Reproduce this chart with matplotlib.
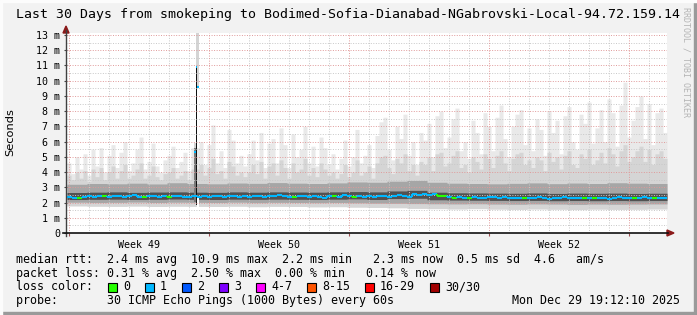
import numpy as np
import matplotlib
matplotlib.use("Agg")
import matplotlib.pyplot as plt
from matplotlib.patches import Rectangle, Polygon
from matplotlib.collections import LineCollection
from matplotlib.lines import Line2D

# ---------------- data ----------------
title = "Last 30 Days from smokeping to Bodimed-Sofia-Dianabad-NGabrovski-Local-94.72.159.14"
ytick_vals = list(range(0, 14))
ytick_labels = ["0"] + [f"{v} m" for v in range(1, 14)]
week_labels = ["Week 49", "Week 50", "Week 51", "Week 52"]
week_label_days = [3.6, 10.6, 17.6, 24.6]
week_grid_days = [0.1, 7.1, 14.1, 21.1, 28.1]
day_grid_days = [0.1 + k for k in range(30)]

# median rtt (ms), 120 bins of 6 h
median_ms = [
    2.36, 2.32, 2.30, 2.38, 2.41, 2.37, 2.43, 2.40, 2.35, 2.42,
    2.45, 2.38, 2.41, 2.47, 2.39, 2.36, 2.44, 2.40, 2.37, 2.43,
    2.34, 2.41, 2.46, 2.39, 2.36, 2.40, 2.35, 2.42, 2.38, 2.44,
    2.40, 2.37, 2.45, 2.41, 2.38, 2.43, 2.39, 2.46, 2.42, 2.37,
    2.44, 2.40, 2.48, 2.43, 2.38, 2.35, 2.41, 2.45, 2.39, 2.42,
    2.38, 2.33, 2.40, 2.44, 2.39, 2.47, 2.43, 2.36, 2.41, 2.38,
    2.42, 2.39, 2.45, 2.40, 2.37, 2.43, 2.48, 2.41, 2.38, 2.55,
    2.52, 2.58, 2.49, 2.56, 2.46, 2.40, 2.36, 2.33, 2.37, 2.31,
    2.30, 2.34, 2.29, 2.33, 2.38, 2.35, 2.31, 2.36, 2.32, 2.28,
    2.31, 2.27, 2.33, 2.30, 2.35, 2.29, 2.26, 2.32, 2.28, 2.34,
    2.30, 2.27, 2.31, 2.29, 2.33, 2.28, 2.32, 2.30, 2.26, 2.31,
    2.34, 2.29, 2.32, 2.27, 2.31, 2.35, 2.30, 2.28, 2.33, 2.30,
]
# lost pings per bin (0 -> green, 1 -> cyan)
loss_idx = [
    1, 1, 0, 1, 1, 1, 1, 0, 1, 1,
    1, 1, 1, 1, 1, 0, 1, 1, 1, 1,
    0, 1, 1, 1, 1, 1, 1, 1, 1, 1,
    1, 1, 1, 1, 1, 1, 1, 1, 1, 1,
    1, 1, 1, 1, 1, 0, 1, 1, 1, 1,
    1, 1, 1, 0, 1, 1, 1, 0, 1, 1,
    1, 1, 1, 1, 1, 1, 1, 1, 1, 1,
    1, 1, 1, 1, 0, 0, 1, 0, 1, 1,
    0, 1, 1, 1, 1, 1, 1, 1, 1, 1,
    1, 0, 1, 1, 1, 1, 1, 1, 1, 1,
    1, 1, 1, 0, 1, 0, 1, 1, 1, 1,
    1, 1, 1, 0, 1, 1, 1, 0, 1, 1,
]
# smoke: highest ping per 4.8 h bin (150 bins)
smoke_max = [
    4.6, 3.9, 5.0, 4.2, 5.2, 3.8, 5.5, 4.4, 5.6, 4.0, 5.1,
    5.8, 4.3, 5.3, 6.0, 4.1, 4.6, 5.5, 6.3, 4.2, 4.7,
    5.9, 4.4, 4.0, 4.8, 5.1, 5.7, 4.3, 4.7, 5.3, 4.1, 5.6,
    5.6,
    6.0, 4.5, 5.8, 7.1, 4.6, 5.4, 4.3, 6.8, 6.1, 4.6, 5.1, 4.4, 5.2, 6.1, 4.8, 6.6, 4.3, 5.9,
    6.2, 4.6, 6.9, 5.8, 4.3, 6.5, 5.0, 5.5, 7.0, 4.6, 5.7, 4.4, 6.3, 5.6, 4.5,
    5.2, 4.2, 4.9, 6.1, 4.4, 5.0, 6.8, 4.6, 5.1, 5.8, 4.3, 6.4, 7.3,
    7.6, 5.5, 4.8, 7.0, 6.2, 7.8, 5.1, 6.0, 4.5, 6.6, 6.1, 7.2, 5.0, 7.7, 8.0, 5.6, 6.3,
    7.5, 8.2, 5.4, 6.0, 4.9, 7.4, 6.6, 5.2, 7.9, 7.0, 5.4, 7.6, 8.4, 6.2, 5.0, 7.0, 7.8,
    8.1, 5.8, 6.9,
    5.4, 7.5, 6.8, 5.1, 8.0, 6.6, 7.4, 5.2, 7.7, 8.3, 6.0, 5.5, 7.8, 7.2, 8.6, 5.9, 6.9,
    8.1, 6.0, 8.8, 7.9, 5.7, 8.4, 9.9, 6.3, 7.4, 8.3, 9.0, 6.2, 8.5, 5.8, 7.9, 8.2, 6.6,
]
# smoke upper mid-gray level (150 bins)
smoke_p90 = [
    3.8, 3.5, 4.0, 3.6, 4.1, 3.4, 4.2, 3.7, 4.3, 3.5, 4.0,
    4.4, 3.6, 4.1, 4.5, 3.6, 3.8, 4.2, 4.6, 3.6, 3.8,
    4.4, 3.7, 3.5, 3.9, 4.0, 4.3, 3.6, 3.8, 4.1, 3.5, 4.2,
    4.2,
    4.5, 3.8, 4.3, 4.9, 3.9, 4.1, 3.6, 4.7, 4.4, 3.8, 4.0, 3.7, 4.0, 4.5, 3.9, 4.7, 3.6, 4.4,
    4.6, 3.8, 4.8, 4.3, 3.6, 4.6, 4.0, 4.2, 4.9, 3.8, 4.3, 3.7, 4.6, 4.2, 3.8,
    4.0, 3.6, 3.9, 4.5, 3.7, 4.0, 4.8, 3.8, 4.0, 4.4, 3.6, 4.6, 5.0,
    5.1, 4.3, 3.9, 4.9, 4.6, 5.2, 4.1, 4.5, 3.8, 4.7, 4.5, 5.0, 4.1, 5.2, 5.3, 4.4, 4.6,
    5.1, 5.4, 4.3, 4.5, 4.0, 5.0, 4.7, 4.2, 5.2, 4.9, 4.3, 5.1, 5.4, 4.6, 4.1, 4.9, 5.2,
    5.3, 4.5, 4.8,
    4.3, 5.0, 4.8, 4.1, 5.3, 4.7, 5.0, 4.2, 5.1, 5.4, 4.5, 4.3, 5.2, 4.9, 5.5, 4.5, 4.8,
    5.3, 4.6, 5.6, 5.2, 4.4, 5.4, 5.8, 4.7, 5.0, 5.4, 5.7, 4.7, 5.5, 4.5, 5.2, 5.4, 4.9,
]
# smoke core levels per day (30 bins)
smoke_min = [1.78, 1.76, 1.75, 1.77, 1.74, 1.76, 1.75, 1.74, 1.76, 1.73,
             1.75, 1.74, 1.72, 1.73, 1.70, 1.68, 1.66, 1.62, 1.60, 1.58,
             1.60, 1.57, 1.55, 1.58, 1.56, 1.54, 1.57, 1.55, 1.56, 1.58]
smoke_lo = [2.02, 2.00, 2.01, 2.03, 2.00, 2.02, 2.01, 2.00, 2.02, 1.99,
            2.01, 2.00, 1.99, 2.00, 1.98, 1.96, 1.95, 1.93, 1.92, 1.91,
            1.92, 1.90, 1.89, 1.91, 1.90, 1.88, 1.90, 1.89, 1.90, 1.91]
smoke_q1 = [2.20, 2.21, 2.22, 2.20, 2.21, 2.23, 2.21, 2.20, 2.22, 2.21,
            2.22, 2.21, 2.20, 2.22, 2.24, 2.20, 2.26, 2.28, 2.18, 2.16,
            2.15, 2.14, 2.13, 2.14, 2.12, 2.13, 2.12, 2.13, 2.12, 2.13]
smoke_q3 = [2.66, 2.68, 2.70, 2.67, 2.69, 2.70, 2.68, 2.67, 2.70, 2.68,
            2.70, 2.69, 2.68, 2.70, 2.72, 2.70, 2.76, 2.80, 2.68, 2.64,
            2.63, 2.62, 2.61, 2.63, 2.60, 2.62, 2.61, 2.62, 2.60, 2.61]
smoke_hi = [3.20, 3.25, 3.23, 3.27, 3.22, 3.30, 3.25, 3.23, 3.28, 3.26,
            3.31, 3.27, 3.25, 3.29, 3.35, 3.33, 3.40, 3.45, 3.33, 3.27,
            3.25, 3.23, 3.26, 3.29, 3.24, 3.28, 3.25, 3.30, 3.27, 3.25]

# loss spike at day 6.5
spike_day = [6.40, 6.475, 6.55]
spike_lo = [2.05, 1.85, 2.40]
spike_dark_top = [5.6, 10.9, 9.6]
spike_light_top = [5.9, 13.1, 13.1]
spike_med = [5.3, 10.9, 9.6]

# legend
rtt_line = "median rtt:  2.4 ms avg  10.9 ms max  2.2 ms min   2.3 ms now  0.5 ms sd  4.6   am/s"
loss_line = "packet loss: 0.31 % avg  2.50 % max  0.00 % min   0.14 % now"
probe_line = "probe:       30 ICMP Echo Pings (1000 Bytes) every 60s"
stamp = "Mon Dec 29 19:12:10 2025"
loss_labels = ["0", "1", "2", "3", "4-7", "8-15", "16-29", "30/30"]
loss_colors = ["#26ff00", "#00b8ff", "#0059ff", "#7e00ff", "#ff00ff",
               "#ff5500", "#ff0000", "#a10000"]

# ---------------- drawing ----------------
W, H, DPI = 697, 315, 100
MONO = "DejaVu Sans Mono"
fig = plt.figure(figsize=(W / DPI, H / DPI), dpi=DPI, facecolor="#f2f2f2")


def fx(px):
    return px / W


def fy(py):
    return 1 - py / H


ax_left, ax_right, ax_bottom = 67, 667, 233
px_per_m = 15.23
ytop = 200 / px_per_m
ax = fig.add_axes([fx(ax_left), fy(ax_bottom), (ax_right - ax_left) / W, 200 / H])
ax.set_facecolor("white")
ax.set_xlim(0, 30)
ax.set_ylim(0, ytop)
for s in ax.spines.values():
    s.set_visible(False)

N = 600


def resample(arr):
    # map each output column to the bin containing it (no interpolation)
    arr = np.asarray(arr, float)
    idx = (np.arange(N) * len(arr)) // N
    return arr[idx]


def step_fill(lo, hi, color, z):
    edges = np.linspace(0, 30, N + 1)
    lo = np.append(lo, lo[-1])
    hi = np.append(hi, hi[-1])
    ax.fill_between(edges, lo, hi, step="post", color=color, lw=0, zorder=z)


smin = resample(smoke_min)
slo = resample(smoke_lo)
sq1 = resample(smoke_q1)
sq3 = resample(smoke_q3)
shi = resample(smoke_hi)
sp90 = resample(smoke_p90)
smax = resample(smoke_max)

step_fill(smin, smax, "#e9e9e9", 1)
step_fill(smin, np.maximum(sp90, shi), "#d5d5d5", 1.1)
step_fill(slo, shi, "#a6a6a6", 1.2)
step_fill(sq1, sq3, "#525252", 1.3)

# spike
bw = 0.075
for d, lo, dt, lt in zip(spike_day, spike_lo, spike_dark_top, spike_light_top):
    ax.bar(d, lt - dt, bottom=dt, width=bw, color="#d4d4d4", lw=0, zorder=1.4)
ax.bar(spike_day[0], spike_dark_top[0] - spike_lo[0], bottom=spike_lo[0], width=bw,
       color="#7a7a7a", lw=0, zorder=1.5)
ax.bar(spike_day[1], spike_dark_top[1] - spike_lo[1], bottom=spike_lo[1], width=bw,
       color="#111111", lw=0, zorder=1.5)
ax.bar(spike_day[2], spike_lo[2] - 1.6, bottom=1.6, width=bw, color="white", lw=0, zorder=1.5)

# grid on top of smoke
minor_col = "#c8c8c8"
major_col = "#e09a9a"
dot = (0, (1, 1.6))
for d in day_grid_days:
    if d not in week_grid_days:
        ax.axvline(d, color=minor_col, lw=0.7, ls=dot, zorder=2)
for v in np.arange(0.5, ytop, 1.0):
    ax.axhline(v, color=minor_col, lw=0.7, ls=dot, zorder=2)
for d in week_grid_days:
    ax.axvline(d, color=major_col, lw=0.7, ls=dot, zorder=2.1)
for v in ytick_vals[1:]:
    ax.axhline(v, color=major_col, lw=0.7, ls=dot, zorder=2.1)

# median line coloured by loss
nb = len(median_ms)
edges = np.linspace(0, 30, nb + 1)
segs, cols = [], []
for i in range(nb):
    c = loss_colors[loss_idx[i]]
    segs.append([(edges[i], median_ms[i]), (edges[i + 1], median_ms[i])])
    cols.append(c)
    if i + 1 < nb:
        segs.append([(edges[i + 1], median_ms[i]), (edges[i + 1], median_ms[i + 1])])
        cols.append(loss_colors[loss_idx[i + 1]])
ax.add_collection(LineCollection(segs, colors=cols, linewidths=1.5, zorder=3,
                                 capstyle="butt"))
for d, m in zip(spike_day, spike_med):
    ax.plot([d - bw / 2, d + bw / 2], [m, m], color=loss_colors[1], lw=1.5,
            zorder=3.1, solid_capstyle="butt")

# ticks and labels
ax.set_yticks(ytick_vals)
ax.set_yticklabels(ytick_labels, family=MONO, fontsize=7.2)
ax.set_xticks(week_label_days)
ax.set_xticklabels(week_labels, family=MONO, fontsize=7.2)
ax.tick_params(axis="y", length=2, width=0.8, pad=3, color="#444444")
ax.tick_params(axis="x", length=0, pad=5)
ax.set_xticks(week_grid_days, minor=True)
ax.tick_params(axis="x", which="minor", length=2.5, width=0.8, color="#a05050")

# axis lines with arrows
fig.add_artist(Line2D([fx(66), fx(66)], [fy(236), fy(30)], color="#404040", lw=1.0))
fig.add_artist(Line2D([fx(63), fx(668)], [fy(233), fy(233)], color="#111111", lw=1.2))
arrow_col = "#8b1a1a"
fig.add_artist(Polygon([(fx(63), fy(33)), (fx(69), fy(33)), (fx(66), fy(26))],
                       closed=True, color=arrow_col, transform=fig.transFigure))
fig.add_artist(Polygon([(fx(667), fy(230)), (fx(667), fy(236)), (fx(674), fy(233))],
                       closed=True, color=arrow_col, transform=fig.transFigure))

# frame shading
fig.add_artist(Rectangle((fx(694), 0), 3 / W, 1, color="#9a9a9a", transform=fig.transFigure))
fig.add_artist(Rectangle((0, 0), 1, 3 / H, color="#9a9a9a", transform=fig.transFigure))
fig.add_artist(Rectangle((0, 0), 2 / W, 1, color="#fcfcfc", transform=fig.transFigure))
fig.add_artist(Rectangle((0, fy(2)), 1, 2 / H, color="#fcfcfc", transform=fig.transFigure))

# texts
fig.text(fx(16), fy(18), title, family=MONO, fontsize=9.55, va="baseline", ha="left")
fig.text(fx(10.5), fy(132), "Seconds", family="DejaVu Sans", fontsize=8.2,
         rotation=90, va="center", ha="center")
fig.text(fx(686), fy(7), "RRDTOOL / TOBI OETIKER", family=MONO, fontsize=6,
         color="#b4b4b4", rotation=270, va="top", ha="center")

LF = 8.35
fig.text(fx(16), fy(263.5), rtt_line, family=MONO, fontsize=LF, va="baseline")
fig.text(fx(16), fy(277), loss_line, family=MONO, fontsize=LF, va="baseline")
fig.text(fx(16), fy(290.5), "loss color:", family=MONO, fontsize=LF, va="baseline")
fig.text(fx(16), fy(304), probe_line, family=MONO, fontsize=LF, va="baseline")
fig.text(fx(680), fy(304), stamp, family=MONO, fontsize=LF, va="baseline", ha="right")

char_w = 7.0
lx = 123.0
for lab, col in zip(loss_labels, loss_colors):
    fig.add_artist(Rectangle((fx(lx - 15), fy(291.5)), 8.5 / W, 8.5 / H,
                             facecolor=col, edgecolor="black", lw=0.8,
                             transform=fig.transFigure))
    fig.text(fx(lx), fy(290.5), lab, family=MONO, fontsize=LF, va="baseline")
    lx += char_w * len(lab) + 30

fig.savefig("out.png", dpi=DPI, facecolor=fig.get_facecolor())
